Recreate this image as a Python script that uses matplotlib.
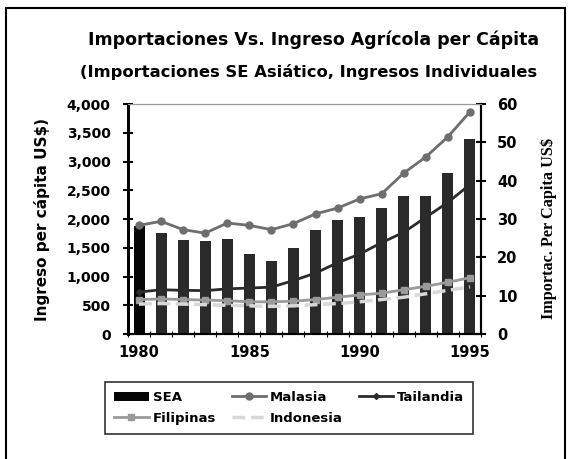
import numpy as np
import matplotlib.pyplot as plt
from matplotlib.patches import Rectangle

years = np.arange(1980, 1996)
# SEA imports per capita (right axis, US$)
sea = [28.2, 26.4, 24.5, 24.3, 24.9, 20.8, 19.1, 22.4, 27.1, 29.7, 30.6, 32.8, 36.0, 36.0, 42.1, 50.8]
# income per capita (left axis, US$)
malasia = [1890, 1960, 1815, 1755, 1930, 1890, 1815, 1920, 2090, 2190, 2350, 2440, 2800, 3080, 3430, 3865]
tailandia = [730, 770, 760, 755, 785, 800, 815, 930, 1060, 1240, 1390, 1590, 1770, 2030, 2290, 2600]
filipinas = [600, 610, 600, 590, 580, 560, 560, 570, 600, 640, 680, 710, 770, 830, 900, 980]
indonesia = [520, 530, 520, 510, 500, 490, 480, 490, 510, 530, 560, 600, 640, 700, 760, 820]

plt.rcParams['font.family'] = ['DejaVu Sans']
plt.rcParams['font.weight'] = 'bold'

fig = plt.figure(figsize=(5.75, 4.59), dpi=100)
fig.patches.append(Rectangle((0.011, -0.05), 0.972, 1.032, transform=fig.transFigure,
                             fill=False, edgecolor='black', linewidth=1.5))

ax = fig.add_axes([0.2226, 0.2723, 0.6139, 0.501])
ax2 = ax.twinx()
ax.set_zorder(ax2.get_zorder() + 1)
ax.patch.set_visible(False)
ax2.patch.set_facecolor('#f1f1f1')

bar_colors = ['#050505'] + ['#2a2a2a'] * (len(years) - 1)
bars = ax2.bar(years, sea, width=0.5, color=bar_colors, label='SEA')
ax2.set_ylim(0, 60)
ax2.set_yticks(np.arange(0, 61, 10))

l1, = ax.plot(years, malasia, color='#6e6e6e', lw=2, marker='o', ms=5, label='Malasia')
l2, = ax.plot(years, tailandia, color='#2b2b2b', lw=2, marker='D', ms=3, label='Tailandia')
l3, = ax.plot(years, filipinas, color='#9a9a9a', lw=2, marker='s', ms=4, label='Filipinas')
l4, = ax.plot(years, indonesia, color='#d8d8d8', lw=2.5, ls='--', label='Indonesia')

ax.set_ylim(0, 4000)
ax.set_yticks(np.arange(0, 4001, 500))
ax.set_yticklabels([f'{v:,}' for v in range(0, 4001, 500)])
ax.set_xlim(1979.6, 1995.5)
ax.set_xticks([1980, 1985, 1990, 1995])
ax.set_xticklabels(['1980', '1985', '1990', '1995'])
ax.set_xticks(np.arange(1979.5, 1996, 1), minor=True)

ax.tick_params(axis='y', direction='inout', length=7, width=1.5, labelsize=10, pad=9)
ax.tick_params(axis='x', which='major', length=0, labelsize=10.5, pad=8)
ax.tick_params(axis='x', which='minor', direction='inout', length=4, width=0.8)
ax2.tick_params(axis='y', direction='inout', length=7, width=1.5, labelsize=10.5, pad=8)

for a in (ax, ax2):
    a.spines['top'].set_color('#999999')
    a.spines['left'].set_linewidth(2)
    a.spines['right'].set_linewidth(1.5)
    a.spines['bottom'].set_linewidth(1.5)

ax.set_ylabel('Ingreso per cápita US$)', fontsize=11, fontweight='bold', labelpad=12)
ax2.set_ylabel('Importac. Per Capita US$', fontsize=11.7, fontweight='bold',
               family=['Liberation Serif'])
ax2.yaxis.set_label_coords(1.17, 0.46)

fig.text(0.545, 0.913, 'Importaciones Vs. Ingreso Agrícola per Cápita',
         ha='center', va='center', fontsize=12.5, fontweight='bold')
fig.text(0.537, 0.843, '(Importaciones SE Asiático, Ingresos Individuales',
         ha='center', va='center', fontsize=11.8, fontweight='bold')

handles = [bars, l3, l1, l4, l2]
labels = ['SEA', 'Filipinas', 'Malasia', 'Indonesia', 'Tailandia']
leg = fig.legend(handles, labels, loc='center', ncol=3,
                 bbox_to_anchor=(0.503, 0.111),
                 frameon=True, fancybox=False, edgecolor='black', fontsize=9.5,
                 handlelength=2.6, handletextpad=0.3, borderpad=0.7, labelspacing=0.6,
                 columnspacing=1.2)
leg.get_frame().set_linewidth(1.2)

plt.savefig('out.png', dpi=100)
